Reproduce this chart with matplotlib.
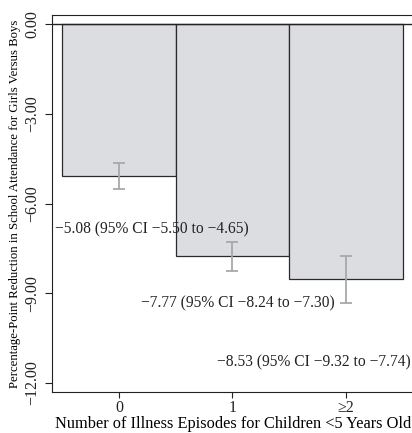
import matplotlib.pyplot as plt

plt.rcParams['font.family'] = ['Liberation Serif', 'DejaVu Serif']

# Data
categories = ["0", "1", "\u22652"]
estimates = [-5.08, -7.77, -8.53]
ci_low = [-5.50, -8.24, -9.32]
ci_high = [-4.65, -7.30, -7.74]
labels = ["\u22125.08 (95% CI \u22125.50 to \u22124.65)",
          "\u22127.77 (95% CI \u22128.24 to \u22127.30)",
          "\u22128.53 (95% CI \u22129.32 to \u22127.74)"]
label_pos = [(-0.56, -6.86), (0.19, -9.33), (0.86, -11.3)]

fig = plt.figure(figsize=(4.12, 4.33), dpi=100)
ax = fig.add_axes([52 / 412, 1 - 392 / 433, 362 / 412, 377 / 433])

x = list(range(len(categories)))
ax.bar(x, estimates, width=1.0, color="#dcdde0", edgecolor="#2a2a2a", linewidth=0.9)
err_lo = [e - l for e, l in zip(estimates, ci_low)]
err_hi = [h - e for e, h in zip(estimates, ci_high)]
ax.errorbar(x, estimates, yerr=[err_lo, err_hi], fmt="none", ecolor="#a8a8a8",
            elinewidth=1.3, capsize=4, capthick=1.3)
ax.axhline(0, color="#222222", linewidth=1.0)

for (tx, ty), txt in zip(label_pos, labels):
    ax.text(tx, ty, txt, fontsize=11.2, ha="left", va="center", color="#222222")

ax.set_xlim(-0.59, 2.6)
ax.set_ylim(-12.3, 0.3)
ax.set_xticks(x)
ax.set_xticklabels(categories, fontsize=11.5)
yt = [0, -3, -6, -9, -12]
ax.set_yticks(yt)
ax.set_yticklabels(["0.00" if v == 0 else "\u2212%.2f" % abs(v) for v in yt],
                   rotation=90, va="center", fontsize=11.5)
ax.tick_params(colors="#222222", length=5)
ax.tick_params(axis="x", length=4, pad=1.5)
ax.spines["right"].set_visible(False)
for s in ["left", "bottom", "top"]:
    ax.spines[s].set_color("#222222")

ax.set_xlabel("Number of Illness Episodes for Children <5 Years Old", fontsize=11.8, labelpad=0)
ax.set_ylabel("Percentage-Point Reduction in School Attendance for Girls Versus Boys",
              fontsize=9.2, labelpad=2)

fig.savefig("out.png", dpi=100)
